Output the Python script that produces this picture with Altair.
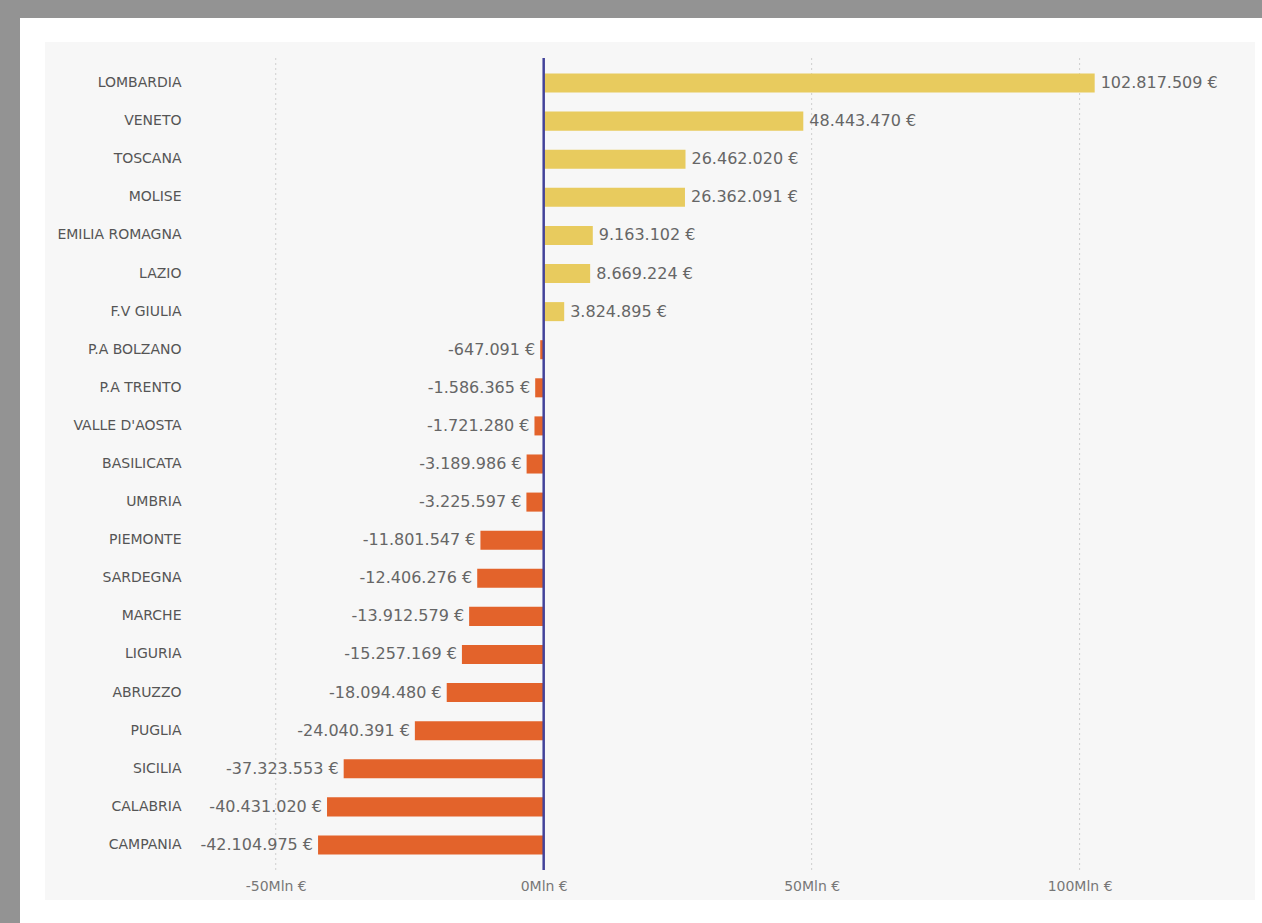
import altair as alt
import pandas as pd

regions = ["LOMBARDIA", "VENETO", "TOSCANA", "MOLISE", "EMILIA ROMAGNA", "LAZIO",
           "F.V GIULIA", "P.A BOLZANO", "P.A TRENTO", "VALLE D'AOSTA", "BASILICATA",
           "UMBRIA", "PIEMONTE", "SARDEGNA", "MARCHE", "LIGURIA", "ABRUZZO",
           "PUGLIA", "SICILIA", "CALABRIA", "CAMPANIA"]
values = [102817509, 48443470, 26462020, 26362091, 9163102, 8669224,
          3824895, -647091, -1586365, -1721280, -3189986,
          -3225597, -11801547, -12406276, -13912579, -15257169, -18094480,
          -24040391, -37323553, -40431020, -42104975]
tick_values = [-50000000, 0, 50000000, 100000000]
grid_values = [-50000000, 50000000, 100000000]

YELLOW = "#E8CB5E"
ORANGE = "#E3632B"
ZERO = "#43439A"
FONT = "DejaVu Sans"


def fmt(v):
    s = f"{abs(v):,}".replace(",", ".") + " €"
    return ("-" + s) if v < 0 else s


df = pd.DataFrame({
    "region": regions,
    "value": values,
    "label": [fmt(v) for v in values],
    "sign": ["pos" if v >= 0 else "neg" for v in values],
})
grid_df = pd.DataFrame({"value": grid_values})
one = pd.DataFrame({"k": [0]})

x_scale = alt.Scale(domain=[-66000000, 129000000], nice=False, zero=False)
x_enc = alt.X("value:Q", scale=x_scale,
              axis=alt.Axis(values=tick_values, title=None, domain=False, ticks=False,
                            labelExpr="(datum.value < 0 ? '-' : '') + format(abs(datum.value)/1000000,'d') + 'Mln €'",
                            labelFont=FONT, labelFontSize=14, labelColor="#777",
                            labelPadding=15, grid=False, zindex=1))
y_enc = alt.Y("region:N", sort=regions,
              scale=alt.Scale(paddingInner=0.5, paddingOuter=0.25),
              axis=alt.Axis(title=None, domain=False, ticks=False, labelPadding=9,
                            labelFont=FONT, labelFontSize=14, labelColor="#555",
                            grid=False, zindex=1))

# decorative frame (screenshot border, white card, light panel)
frame = alt.Chart(one).mark_rect(color="#939393").encode(
    x=alt.value(-190), x2=alt.value(1072), y=alt.value(-64), y2=alt.value(859))
card = alt.Chart(one).mark_rect(color="#ffffff").encode(
    x=alt.value(-170), x2=alt.value(1072), y=alt.value(-46), y2=alt.value(859))
panel = alt.Chart(one).mark_rect(color="#F7F7F7").encode(
    x=alt.value(-145), x2=alt.value(1065), y=alt.value(-22), y2=alt.value(836))

grid = alt.Chart(grid_df).mark_rule(color="#cfcfcf", strokeDash=[2, 3], strokeWidth=1).encode(
    x=alt.X("value:Q", scale=x_scale), y=alt.value(-6), y2=alt.value(806))

base = alt.Chart(df)

bars = base.mark_bar().encode(
    x=x_enc,
    y=y_enc,
    color=alt.Color("sign:N", scale=alt.Scale(domain=["pos", "neg"], range=[YELLOW, ORANGE]),
                    legend=None),
)

pos_text = base.transform_filter("datum.value >= 0").mark_text(
    align="left", baseline="middle", dx=6, font=FONT, fontSize=16, color="#666"
).encode(x="value:Q", y=alt.Y("region:N", sort=regions), text="label:N")

neg_text = base.transform_filter("datum.value < 0").mark_text(
    align="right", baseline="middle", dx=-5, font=FONT, fontSize=16, color="#666"
).encode(x="value:Q", y=alt.Y("region:N", sort=regions), text="label:N")

zero_line = alt.Chart(one).mark_rule(color=ZERO, strokeWidth=2.5).encode(
    x=alt.datum(0), y=alt.value(-6), y2=alt.value(806))

chart = alt.layer(frame, card, panel, grid, bars, pos_text, neg_text, zero_line).properties(
    width=1045, height=800, padding=0, background="white"
).configure_view(strokeWidth=0)

chart.save("out.html", embed_options={"renderer": "svg", "actions": False})
